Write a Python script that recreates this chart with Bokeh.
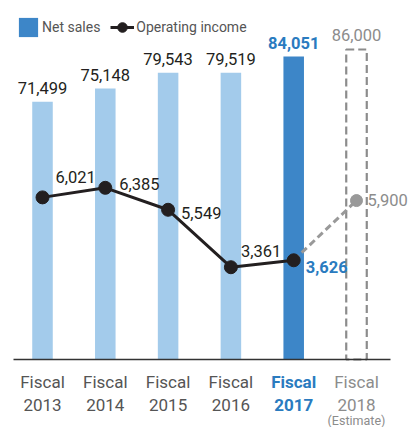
import numpy as np
from bokeh.plotting import figure
from bokeh.models import (ColumnDataSource, Range1d, LabelSet, Legend, LegendItem,
                          FixedTicker, LinearAxis)
from bokeh.core.properties import value
from bokeh.embed import file_html
from bokeh.resources import INLINE

# ---- data ----
years = ["2013", "2014", "2015", "2016", "2017", "2018"]
year_notes = ["", "", "", "", "", "(Estimate)"]
net_sales = [71499, 75148, 79543, 79519, 84051, 86000]
operating_income = [6021, 6385, 5549, 3361, 3626, 5900]
n_actual = 5  # first five fiscal years are actual results, the last one is an estimate

# ---- styles ----
FONT_NAME = "Roboto"
FONT = value(FONT_NAME)
DARK = "#231f20"
AXIS_GRAY = "#555555"
EST_GRAY = "#8c8c8c"
BLUE_TEXT = "#2a7bbf"
LIGHT_BAR = "#a3cbeb"
DARK_BAR = "#3d86c8"

idx = list(range(len(years)))
bar_fill = [LIGHT_BAR] * 4 + [DARK_BAR]
text_colors = [DARK] * 4 + [BLUE_TEXT] + [EST_GRAY]
axis_colors = [AXIS_GRAY] * 4 + [BLUE_TEXT] + [EST_GRAY]
font_styles = ["normal"] * 4 + ["bold"] + ["normal"]
oi_dx = [13, 14, 13, 10, 12, 11]
oi_dy = [14, -2, -9, 10, -13, -5]

W, H = 411, 427
p = figure(width=W, height=H, output_backend="svg", toolbar_location=None,
           x_range=Range1d(-0.6688, 5.8758), y_range=Range1d(-18863, 99587),
           min_border=0, x_axis_location=None, y_axis_location=None)
p.extra_y_ranges = {"oi": Range1d(-2742, 13518)}
p.outline_line_color = None
p.grid.visible = False
p.background_fill_color = "white"
p.border_fill_color = "white"

# baseline axis at zero, limited to the chart's extent
xa = LinearAxis(fixed_location=0, bounds=(-0.462, 5.541), ticker=FixedTicker(ticks=[]),
                major_tick_out=0, major_tick_in=0, minor_tick_out=0, minor_tick_in=0,
                major_label_standoff=0, major_label_text_font_size="0px",
                axis_line_color="#333333", axis_line_width=1.5)
p.add_layout(xa, "below")

# bars
act = ColumnDataSource(dict(x=idx[:n_actual], top=net_sales[:n_actual], color=bar_fill))
est = ColumnDataSource(dict(x=idx[n_actual:], top=net_sales[n_actual:]))
bars = p.vbar(x="x", top="top", width=0.327, source=act, fill_color="color",
              line_color=None)
p.vbar(x="x", top="top", width=0.327, source=est, fill_color=None,
       line_color=EST_GRAY, line_width=2.2, line_dash="8 4")

# operating income line
oi_act = ColumnDataSource(dict(x=idx[:n_actual], y=operating_income[:n_actual]))
oi_est = ColumnDataSource(dict(x=idx[n_actual - 1:], y=operating_income[n_actual - 1:]))
oi_est_pt = ColumnDataSource(dict(x=idx[n_actual:], y=operating_income[n_actual:]))
p.line("x", "y", source=oi_est, y_range_name="oi", line_color="#999999",
       line_width=3, line_dash="7 4")
oi_line = p.line("x", "y", source=oi_act, y_range_name="oi", line_color=DARK,
                 line_width=3)
oi_dots = p.scatter("x", "y", source=oi_act, y_range_name="oi", size=13,
                    fill_color=DARK, line_color=DARK)
p.scatter("x", "y", source=oi_est_pt, y_range_name="oi", size=12,
          fill_color="#999999", line_color="#999999")

# bar value labels
bar_lab = ColumnDataSource(dict(x=idx, y=net_sales, text=[f"{v:,}" for v in net_sales],
                                color=text_colors, style=font_styles))
p.add_layout(LabelSet(x="x", y="y", text="text", source=bar_lab, text_align="center",
                      text_baseline="alphabetic", y_offset=8, text_font=FONT,
                      text_font_size="16.5px", text_color="color",
                      text_font_style="style"))

# operating income labels
oi_lab = ColumnDataSource(dict(x=idx, y=operating_income,
                               text=[f"{v:,}" for v in operating_income],
                               color=text_colors, style=font_styles,
                               dx=oi_dx, dy=oi_dy))
p.add_layout(LabelSet(x="x", y="y", text="text", source=oi_lab, y_range_name="oi",
                      text_align="left", text_baseline="alphabetic",
                      x_offset="dx", y_offset="dy", text_font=FONT,
                      text_font_size="16.5px", text_color="color",
                      text_font_style="style"))

# category labels under the axis
zeros = [0] * len(years)
cat_src = ColumnDataSource(dict(x=idx, y=zeros, fiscal=["Fiscal"] * len(years),
                                year=years, note=year_notes, color=axis_colors,
                                style=font_styles))
p.add_layout(LabelSet(x="x", y="y", text="fiscal", source=cat_src, text_align="center",
                      text_baseline="alphabetic", y_offset=-28, text_font=FONT,
                      text_font_size="17px", text_color="color",
                      text_font_style="style"))
p.add_layout(LabelSet(x="x", y="y", text="year", source=cat_src, text_align="center",
                      text_baseline="alphabetic", y_offset=-51, text_font=FONT,
                      text_font_size="17px", text_color="color",
                      text_font_style="style"))
p.add_layout(LabelSet(x="x", y="y", text="note", source=cat_src, text_align="center",
                      text_baseline="alphabetic", y_offset=-65, text_font=FONT,
                      text_font_size="12.5px", text_color="color"))

# legend
legend = Legend(items=[LegendItem(label="Net sales", renderers=[bars], index=4),
                       LegendItem(label="Operating income",
                                  renderers=[oi_line, oi_dots], index=0)],
                orientation="horizontal", location=(16, 388), glyph_width=24,
                glyph_height=24, label_standoff=2, spacing=10, padding=0, margin=0,
                border_line_alpha=0, background_fill_alpha=0,
                label_text_font=FONT_NAME, label_text_font_size="14px",
                label_text_color=AXIS_GRAY)
p.add_layout(legend)

open("out.html", "w").write(file_html(p, INLINE))
